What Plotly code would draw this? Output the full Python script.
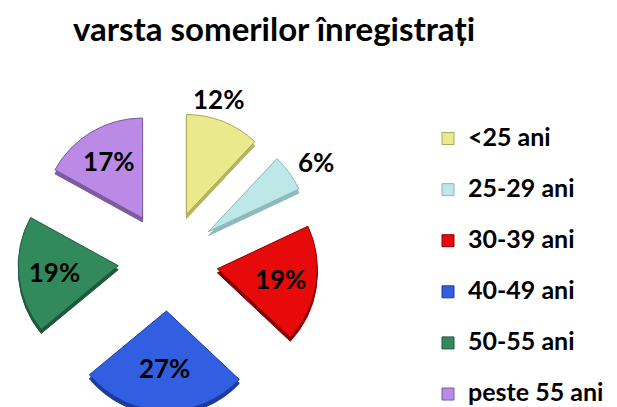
import plotly.graph_objects as go

categories = ["<25 ani", "25-29 ani", "30-39 ani", "40-49 ani", "50-55 ani", "peste 55 ani"]
values = [12, 6, 19, 27, 19, 17]
colors = ["#EAEA8C", "#BEE8E8", "#E60A0A", "#325FE1", "#328A5C", "#BB8AE6"]
side_colors = ["#B5B560", "#8FBABA", "#8A0000", "#1E3A9A", "#1E5A3A", "#7E5A9E"]
line_colors = ["#A8A860", "#8FB5B5", "#8A0000", "#1A3A9A", "#1E5A3A", "#7A5A9A"]
text_pos = ["none", "none", "inside", "inside", "inside", "inside"]

# legend labels: text in a 25px span; a blank second line gives the taller row spacing
legend_labels = [
    "<span style='font-size:25px'>" + c + "</span>" + ("<br> " if i < len(categories) - 1 else "")
    for i, c in enumerate(categories)
]

W, H = 617, 407
cx, R = 160, 100
pull = 0.5
half = R * (1 + pull)
depth = 4  # px thickness of the 3D edge
xdom = [(cx - half) / W, (cx + half) / W]

font_lbl = dict(family="Lato", size=26, color="black", weight="bold")

# darker "side" of the slices, slightly lower
side = go.Pie(
    labels=legend_labels, values=values, sort=False, direction="clockwise", rotation=0,
    pull=[pull] * len(values),
    marker=dict(colors=side_colors, line=dict(color=side_colors, width=1)),
    textinfo="none", showlegend=False, hoverinfo="skip",
    domain=dict(x=xdom, y=[0, (2 * half) / H]),
)

top = go.Pie(
    labels=legend_labels, values=values, sort=False, direction="clockwise", rotation=0,
    pull=[pull] * len(values),
    marker=dict(colors=colors, line=dict(color=line_colors, width=1)),
    texttemplate="%{value}%",
    textposition=text_pos,
    insidetextorientation="horizontal",
    textfont=font_lbl,
    domain=dict(x=xdom, y=[depth / H, (2 * half + depth) / H]),
    hoverinfo="skip",
)

fig = go.Figure([side, top])

# outside labels of the two small slices
outside_pos = {0: (210, 91), 1: (308, 154)}
for i, (px, py) in outside_pos.items():
    fig.add_annotation(text=f"{values[i]}%", x=px / W, y=1 - py / H, xref="paper", yref="paper",
                       xanchor="center", yanchor="middle", showarrow=False, font=font_lbl)

fig.update_layout(
    width=W, height=H,
    margin=dict(l=0, r=0, t=0, b=0, autoexpand=False),
    paper_bgcolor="white",
    title=dict(text="<b>varsta somerilor înregistrați</b>", x=266 / W, xanchor="center",
               y=1 - 21 / H, yanchor="middle",
               font=dict(family="Lato", size=33, color="black")),
    legend=dict(x=420 / W, y=1 - 112 / H, xanchor="left", yanchor="top",
                font=dict(family="Lato", size=18.5, color="black", weight="bold"),
                valign="top", bgcolor="rgba(0,0,0,0)"),
    showlegend=True,
)

fig.write_html("out.html")
